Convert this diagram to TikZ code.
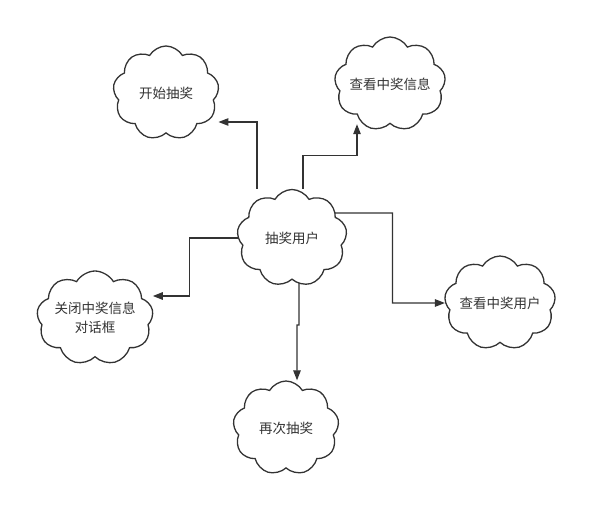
\documentclass[tikz,border=0pt]{standalone}
\usepackage{fontspec}
\newfontfamily\cjk{Noto Sans CJK SC}
\usetikzlibrary{positioning,arrows.meta,shapes.symbols,backgrounds}
\definecolor{cloudline}{RGB}{51,51,51}
\definecolor{cloudtext}{RGB}{51,51,51}

\begin{document}
\begin{tikzpicture}[
  x=1pt,y=1pt,
  >={Triangle[length=10pt,width=7.5pt]},
  idea/.style={cloud,cloud puffs=9,cloud puff arc=120,cloud ignores aspect,draw=cloudline,line width=1.3pt,fill=white,minimum width=106pt,minimum height=94pt,inner sep=0pt,align=center,font=\cjk\fontsize{13.5}{19}\selectfont,text=cloudtext},
  ar/.style={->,line width=1.2pt,cloudline}
]
\useasboundingbox (0,0) rectangle (604,528);

% centre: the user
\node[idea,minimum width=110pt,minimum height=97pt] (user) at (292,290) {抽奖用户};

% around it: the five actions
\node[idea] (start)   at (166,435) {开始抽奖};
\node[idea] (info)    at (390,444) {查看中奖信息};
\node[idea] (close)   at (95,210)  {关闭中奖信息\\对话框};
\node[idea] (winners) at (500,225) {查看中奖用户};
\node[idea] (again)   at (286,100) {再次抽奖};

\begin{scope}[on background layer]
\draw[ar] ([xshift=-35pt]user.north) |- ([yshift=-29pt]start.east);
\draw[ar] ([xshift=11pt]user.north) -- ++(0,33) -| ([xshift=-33pt]info.south);
\draw[ar] ([yshift=25pt]user.center) -- ([xshift=46pt,yshift=25pt]user.east) |- (winners.west);
\draw[ar] (user.west) -- ++(-48,0) |- ([yshift=22pt]close.east);
\draw[ar] ([xshift=7pt]user.south) -- ++(0,-45) -- ++(-2,0) -- ([xshift=11pt]again.north);
\end{scope}

\end{tikzpicture}
\end{document}
